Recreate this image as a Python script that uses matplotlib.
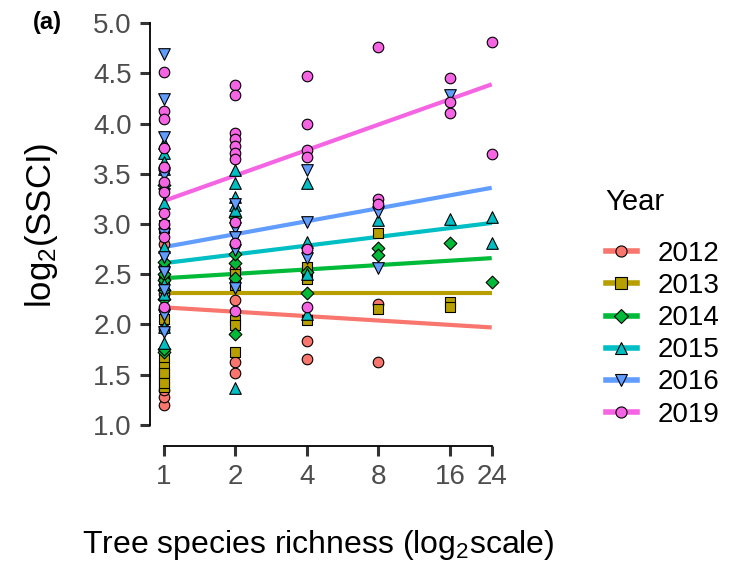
import numpy as np
import matplotlib.pyplot as plt
from matplotlib.lines import Line2D

plt.rcParams['font.family'] = ['Liberation Sans', 'DejaVu Sans']
plt.rcParams['mathtext.fontset'] = 'custom'
plt.rcParams['mathtext.rm'] = 'Liberation Sans'
plt.rcParams['mathtext.it'] = 'Liberation Sans:italic'

years = ['2012', '2013', '2014', '2015', '2016', '2019']
colors = ['#F8766D', '#B79F00', '#00BA38', '#00BFC4', '#619CFF', '#F564E3']
markers = ['o', 's', 'D', '^', 'v', 'o']
marker_sizes = [58, 52, 42, 70, 70, 58]
richness_ticks = [1, 2, 4, 8, 16, 24]

# log2(SSCI) of each plot, keyed by tree species richness
ssci_2012 = {1: [1.20, 1.28, 1.35, 2.57, 2.30, 2.45, 2.80, 2.15, 1.95],
             2: [2.24, 1.63, 1.52, 2.55],
             4: [1.84, 1.66],
             8: [2.20, 1.63]}
ssci_2013 = {1: [2.99, 2.96, 2.44, 1.67, 1.58, 1.48, 1.38, 1.52, 1.42, 2.05],
             2: [2.39, 2.04, 1.99, 1.73, 2.50],
             4: [2.57, 2.45, 2.04],
             8: [2.91, 2.15],
             16: [2.22, 2.17]}
ssci_2014 = {1: [3.39, 2.44, 2.34, 2.25, 1.73, 1.76, 2.50, 2.62],
             2: [3.07, 2.61, 2.46, 1.90, 2.70],
             4: [2.31, 2.52],
             8: [2.76, 2.69],
             16: [2.81],
             24: [2.42]}
ssci_2015 = {1: [3.81, 3.71, 3.62, 3.21, 2.77, 1.97, 1.82, 2.40, 2.30, 3.55],
             2: [3.54, 3.41, 3.27, 3.19, 3.14, 1.37],
             4: [3.41, 2.82, 2.50, 2.10],
             8: [3.04],
             16: [3.05],
             24: [3.07, 2.81]}
ssci_2016 = {1: [4.69, 4.24, 3.87, 3.49, 2.67, 2.52, 2.34, 2.09, 1.92, 2.90, 3.30],
             2: [2.96, 2.87, 2.74, 2.36, 3.20],
             4: [3.54, 3.02, 2.66],
             8: [3.12, 2.56],
             16: [4.28]}
ssci_2019 = {1: [4.51, 4.12, 4.04, 3.57, 3.42, 3.32, 3.11, 2.87, 2.17, 3.76, 3.00],
             2: [4.38, 4.28, 3.91, 3.85, 3.78, 3.71, 3.65, 3.02, 2.81, 2.13],
             4: [4.47, 4.00, 3.74, 3.67, 2.75, 2.17],
             8: [4.76, 3.25, 3.20],
             16: [4.45, 4.21, 4.10],
             24: [4.81, 3.70]}
ssci = [ssci_2012, ssci_2013, ssci_2014, ssci_2015, ssci_2016, ssci_2019]

# fitted regression line, value at richness 1 and at richness 24
fit_at_1 = [2.17, 2.31, 2.46, 2.61, 2.77, 3.23]
fit_at_24 = [1.97, 2.31, 2.66, 3.01, 3.36, 4.39]

fig = plt.figure(figsize=(7.42, 5.63), dpi=100)
ax = fig.add_axes([150 / 742, 1 - 446 / 563, 355 / 742, 431 / 563])

for i, yr in enumerate(years):
    ax.plot([1, 24], [fit_at_1[i], fit_at_24[i]], color=colors[i], lw=3, zorder=2,
            solid_capstyle='butt')

for i, yr in enumerate(years):
    xs, ys = [], []
    for r, vals in ssci[i].items():
        xs += [r] * len(vals)
        ys += vals
    ax.scatter(xs, ys, s=marker_sizes[i], marker=markers[i], c=colors[i],
               edgecolors='black', linewidths=0.8, zorder=3)

ax.set_xscale('log', base=2)
ax.set_xlim(0.873, 27.3)
ax.set_ylim(0.79, 5.08)
ax.set_xticks(richness_ticks)
ax.set_xticklabels([str(r) for r in richness_ticks])
ax.minorticks_off()
ax.set_yticks(np.arange(1.0, 5.01, 0.5))
ax.set_yticklabels(['%.1f' % v for v in np.arange(1.0, 5.01, 0.5)])

for s in ['top', 'right']:
    ax.spines[s].set_visible(False)
ax.spines['left'].set_bounds(1.0, 5.0)
ax.spines['bottom'].set_bounds(1, 24)
for s in ['left', 'bottom']:
    ax.spines[s].set_linewidth(1.3)
    ax.spines[s].set_color('black')
ax.tick_params(length=7, width=2.2, color='#333333', labelcolor='#4D4D4D',
               labelsize=20, pad=6)

fig.text(42 / 742, 1 - 225 / 563, 'log$_2$(SSCI)', rotation=90, fontsize=25,
         ha='center', va='center')
fig.text(318 / 742, 1 - 545 / 563, 'Tree species richness (log$_2$scale)',
         fontsize=23, ha='center', va='center')
fig.text(33 / 742, 1 - 22 / 563, '(a)', fontsize=17, fontweight='bold',
         ha='left', va='center')

# legend
fig.text(605 / 742, 1 - 202 / 563, 'Year', fontsize=21, ha='left', va='center')
handles = [Line2D([], [], color=colors[i], lw=4, marker=markers[i],
                  ms=8 if markers[i] != 'D' else 7,
                  mfc=colors[i], mec='black', mew=0.8) for i in range(len(years))]
fig.legend(handles, years, loc='upper left', bbox_to_anchor=(606 / 742, 1 - 241 / 563),
           frameon=False, fontsize=20, handlelength=1.1, handletextpad=0.75,
           labelspacing=0.22, borderpad=0, borderaxespad=0)

fig.savefig('out.png', dpi=100)
